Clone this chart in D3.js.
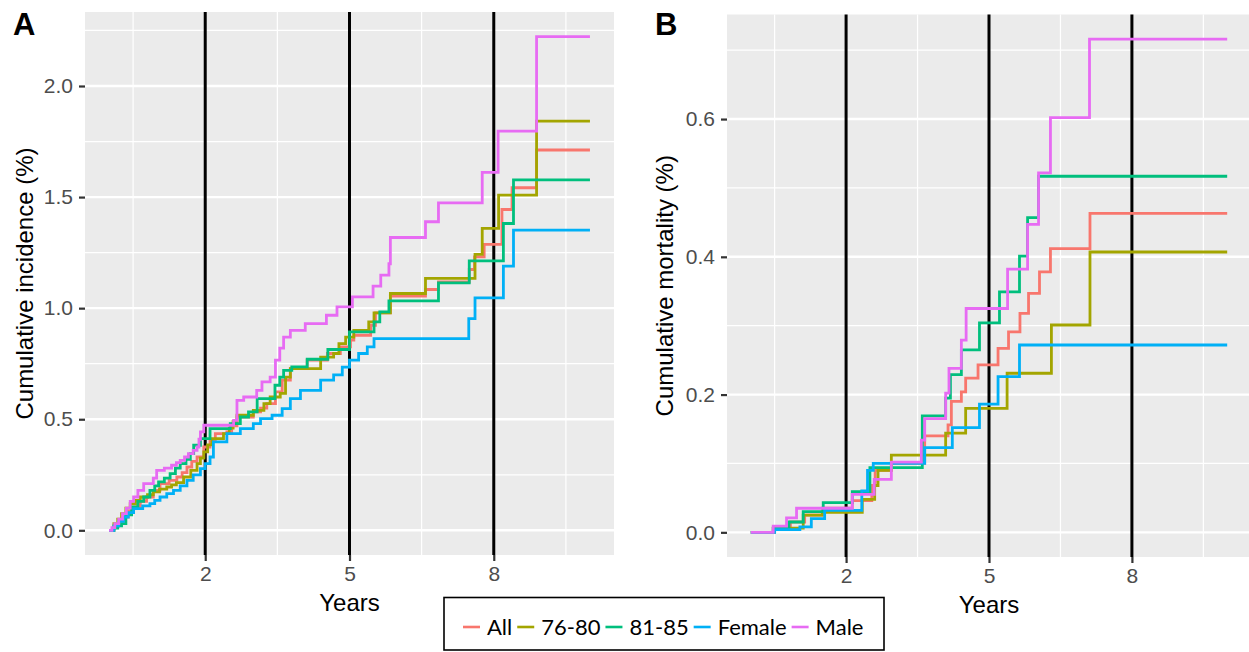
<!DOCTYPE html>
<html>
<head>
<meta charset="utf-8">
<script src="https://cdn.jsdelivr.net/npm/d3@7"></script>
<style>
  body { margin: 0; background: #fff; }
  svg { display: block; font-family: "Liberation Sans", Arial, sans-serif; }
</style>
</head>
<body>
<svg id="canvas" width="1249" height="652"></svg>
<script>
let seriesNames = ['All', '76-80', '81-85', 'Female', 'Male']
let seriesColors = ['#F8766D', '#A3A500', '#00BF7D', '#00B0F6', '#E76BF3']

let xTicks = [2, 5, 8]
let xMinor = [0.5, 3.5, 6.5, 9.5]
let incTicks = [0, 0.5, 1, 1.5, 2]
let incMinor = [0.25, 0.75, 1.25, 1.75, 2.25]
let morTicks = [0, 0.2, 0.4, 0.6]
let morMinor = [0.1, 0.3, 0.5, 0.7]

// cumulative incidence (%), [years, value] step points
let incAll = [[0,0],[0.1,0.02],[0.2,0.04],[0.3,0.06],[0.4,0.085],[0.51,0.105],[0.65,0.13],[0.78,0.15],[0.92,0.18],[1.06,0.21],[1.25,0.225],[1.41,0.24],[1.52,0.26],[1.62,0.285],[1.72,0.31],[1.83,0.33],[1.97,0.375],[2.1,0.405],[2.21,0.435],[2.45,0.443],[2.55,0.47],[2.66,0.51],[3.0,0.533],[3.15,0.55],[3.28,0.57],[3.46,0.623],[3.6,0.676],[3.77,0.728],[4.12,0.766],[4.54,0.796],[4.81,0.826],[5.02,0.856],[5.09,0.878],[5.44,0.923],[5.54,0.979],[5.85,1.054],[6.58,1.084],[6.85,1.118],[7.49,1.174],[7.6,1.231],[7.8,1.287],[8.17,1.444],[8.38,1.542],[8.89,1.712],[10,1.712]]
let inc7680 = [[0,0],[0.1,0.03],[0.18,0.05],[0.26,0.075],[0.35,0.1],[0.44,0.12],[0.55,0.135],[0.65,0.15],[0.8,0.16],[0.92,0.173],[1.05,0.185],[1.2,0.195],[1.3,0.205],[1.4,0.215],[1.55,0.24],[1.7,0.27],[1.83,0.3],[1.9,0.325],[1.97,0.353],[2.05,0.385],[2.14,0.413],[2.38,0.435],[2.5,0.46],[2.58,0.49],[2.66,0.518],[3.0,0.54],[3.22,0.57],[3.35,0.6],[3.56,0.616],[3.67,0.69],[3.77,0.728],[4.4,0.78],[4.67,0.796],[4.78,0.84],[4.92,0.87],[5.09,0.9],[5.4,0.938],[5.51,0.979],[5.85,1.066],[6.58,1.134],[7.61,1.242],[7.76,1.359],[8.1,1.509],[8.89,1.842],[10,1.842]]
let inc8185 = [[0,0],[0.1,0.01],[0.18,0.02],[0.26,0.03],[0.35,0.07],[0.47,0.105],[0.6,0.13],[0.72,0.15],[0.85,0.18],[0.95,0.2],[1.03,0.218],[1.15,0.235],[1.27,0.255],[1.38,0.28],[1.48,0.3],[1.6,0.32],[1.69,0.345],[1.76,0.383],[1.9,0.413],[2.1,0.458],[2.52,0.48],[2.73,0.51],[2.9,0.533],[3.08,0.593],[3.45,0.653],[3.55,0.69],[3.63,0.72],[3.8,0.736],[4.12,0.77],[4.55,0.814],[5.0,0.893],[5.51,0.938],[5.63,0.983],[5.82,1.033],[6.85,1.114],[7.49,1.213],[8.2,1.381],[8.41,1.577],[10,1.577]]
let incFemale = [[0,0],[0.1,0.02],[0.2,0.04],[0.3,0.06],[0.4,0.08],[0.51,0.098],[0.7,0.11],[0.85,0.12],[0.95,0.135],[1.06,0.15],[1.2,0.165],[1.34,0.18],[1.48,0.2],[1.62,0.225],[1.75,0.25],[1.9,0.278],[2.0,0.3],[2.1,0.33],[2.17,0.398],[2.45,0.435],[2.73,0.458],[3.0,0.48],[3.15,0.503],[3.39,0.518],[3.6,0.548],[3.77,0.593],[3.98,0.63],[4.4,0.676],[4.67,0.7],[4.85,0.735],[5.0,0.766],[5.19,0.796],[5.37,0.826],[5.51,0.863],[7.48,0.953],[7.61,1.046],[8.2,1.189],[8.41,1.351],[10,1.351]]
let incMale = [[0,0],[0.06,0.012],[0.12,0.03],[0.2,0.05],[0.28,0.075],[0.36,0.1],[0.44,0.13],[0.51,0.15],[0.6,0.18],[0.72,0.21],[0.92,0.235],[0.99,0.27],[1.15,0.28],[1.3,0.293],[1.4,0.305],[1.48,0.315],[1.57,0.33],[1.65,0.345],[1.75,0.36],[1.83,0.375],[1.87,0.41],[1.9,0.443],[1.97,0.473],[2.59,0.495],[2.66,0.585],[2.8,0.6],[3.07,0.63],[3.18,0.668],[3.35,0.69],[3.46,0.766],[3.55,0.82],[3.63,0.87],[3.77,0.9],[4.08,0.93],[4.52,0.968],[4.74,1.006],[5.06,1.051],[5.49,1.099],[5.65,1.149],[5.82,1.2],[5.85,1.318],[6.58,1.389],[6.85,1.474],[7.76,1.611],[8.09,1.797],[8.89,2.222],[10,2.222]]

// cumulative mortality (%)
let morAll = [[0,0],[0.47,0.006],[0.83,0.015],[1.13,0.025],[1.5,0.035],[2.13,0.046],[2.54,0.068],[2.61,0.09],[2.95,0.1],[3.65,0.14],[4.14,0.156],[4.21,0.19],[4.42,0.204],[4.51,0.224],[4.77,0.243],[5.19,0.267],[5.41,0.291],[5.65,0.318],[5.83,0.347],[6.06,0.378],[6.29,0.412],[7.12,0.463],[10,0.463]]
let mor7680 = [[0,0],[0.5,0.006],[1.1,0.025],[1.5,0.029],[2.34,0.048],[2.6,0.068],[2.67,0.09],[2.95,0.112],[4.09,0.144],[4.51,0.18],[5.38,0.231],[6.31,0.301],[7.12,0.407],[10,0.407]]
let mor8185 = [[0,0],[0.47,0.006],[0.8,0.015],[1.1,0.03],[1.52,0.043],[2.13,0.059],[2.5,0.094],[3.6,0.169],[4.09,0.195],[4.19,0.229],[4.42,0.265],[4.8,0.304],[5.22,0.349],[5.64,0.401],[5.81,0.457],[6.04,0.517],[10,0.517]]
let morFemale = [[0,0],[0.5,0.004],[1.03,0.008],[1.27,0.02],[1.55,0.032],[2.33,0.06],[2.45,0.09],[2.57,0.1],[3.65,0.123],[4.23,0.152],[4.8,0.186],[5.19,0.226],[5.64,0.272],[10,0.272]]
let morMale = [[0,0],[0.47,0.009],[0.75,0.021],[0.96,0.035],[2.13,0.055],[2.59,0.077],[2.95,0.102],[3.58,0.134],[3.65,0.165],[4.09,0.202],[4.16,0.238],[4.42,0.279],[4.52,0.325],[5.39,0.382],[5.81,0.447],[6.04,0.522],[6.29,0.602],[7.11,0.716],[10,0.716]]

let canvas = d3.select('#canvas')
canvas.append('rect').attr('width', 1249).attr('height', 652).attr('fill', '#fff')

let panels = [
  { label: 'A', labelX: 13, left: 85, right: 614, top: 12, bottom: 555, titleX: 33,
    yTitle: 'Cumulative incidence (%)', ticks: incTicks, minor: incMinor,
    series: [incAll, inc7680, inc8185, incFemale, incMale] },
  { label: 'B', labelX: 655, left: 727, right: 1251, top: 14.5, bottom: 557, titleX: 673,
    yTitle: 'Cumulative mortality (%)', ticks: morTicks, minor: morMinor,
    series: [morAll, mor7680, mor8185, morFemale, morMale] }
]

let drawPanel = (p) => {
  let g = canvas.append('g')
  let yMax = d3.max(p.series, (s) => d3.max(s, (d) => d[1]))
  let x = d3.scaleLinear().domain([-0.5, 10.5]).range([p.left, p.right])
  let y = d3.scaleLinear().domain([-0.05 * yMax, 1.05 * yMax]).range([p.bottom, p.top])

  g.append('rect')
    .attr('x', p.left).attr('y', p.top)
    .attr('width', p.right - p.left).attr('height', p.bottom - p.top)
    .attr('fill', '#EBEBEB')

  // grid
  g.selectAll('.hminor').data(p.minor).enter().append('line')
    .attr('x1', p.left).attr('x2', p.right)
    .attr('y1', (d) => y(d)).attr('y2', (d) => y(d))
    .attr('stroke', '#fff').attr('stroke-width', 1.2)
  g.selectAll('.vminor').data(xMinor).enter().append('line')
    .attr('y1', p.top).attr('y2', p.bottom)
    .attr('x1', (d) => x(d)).attr('x2', (d) => x(d))
    .attr('stroke', '#fff').attr('stroke-width', 1.2)
  g.selectAll('.hmajor').data(p.ticks).enter().append('line')
    .attr('x1', p.left).attr('x2', p.right)
    .attr('y1', (d) => y(d)).attr('y2', (d) => y(d))
    .attr('stroke', '#fff').attr('stroke-width', 2.4)

  // reference lines
  g.selectAll('.vref').data(xTicks).enter().append('line')
    .attr('y1', p.top).attr('y2', p.bottom)
    .attr('x1', (d) => x(d)).attr('x2', (d) => x(d))
    .attr('stroke', '#000').attr('stroke-width', 3)

  let line = d3.line()
    .x((d) => x(d[0]))
    .y((d) => y(d[1]))
    .curve(d3.curveStepAfter)

  g.selectAll('.curve').data(p.series).enter().append('path')
    .attr('d', line)
    .attr('fill', 'none')
    .attr('stroke', (d, i) => seriesColors[i])
    .attr('stroke-width', 2.8)

  // axes
  let xAxis = g.append('g')
    .attr('transform', 'translate(0,' + p.bottom + ')')
    .call(d3.axisBottom(x).tickValues(xTicks).tickSize(6).tickPadding(5).tickFormat(d3.format('d')))
  let yAxis = g.append('g')
    .attr('transform', 'translate(' + p.left + ',0)')
    .call(d3.axisLeft(y).tickValues(p.ticks).tickSize(6).tickPadding(6).tickFormat(d3.format('.1f')))
  ;[xAxis, yAxis].forEach((a) => {
    a.select('.domain').remove()
    a.selectAll('line').attr('stroke', '#333').attr('stroke-width', 2.2)
    a.selectAll('text')
      .attr('fill', '#4D4D4D')
      .style('font-size', '21px')
      .style('font-family', '"Liberation Sans", Arial, sans-serif')
  })

  g.append('text')
    .attr('x', (p.left + p.right) / 2).attr('y', p.bottom + 56)
    .attr('text-anchor', 'middle')
    .style('font-size', '24px')
    .text('Years')

  g.append('text')
    .attr('transform', 'translate(' + p.titleX + ',' + ((p.top + p.bottom) / 2) + ') rotate(-90)')
    .attr('text-anchor', 'middle')
    .style('font-size', '24px')
    .text(p.yTitle)

  g.append('text')
    .attr('x', p.labelX).attr('y', 35)
    .style('font-size', '31px').style('font-weight', 'bold')
    .text(p.label)
}

panels.forEach(drawPanel)

// legend
let legend = canvas.append('g')
legend.append('rect')
  .attr('x', 444).attr('y', 597.5).attr('width', 440).attr('height', 52.5)
  .attr('fill', '#fff').attr('stroke', '#000').attr('stroke-width', 1.6)

let lx = 463
seriesNames.forEach((name, i) => {
  legend.append('line')
    .attr('x1', lx).attr('x2', lx + 17)
    .attr('y1', 627).attr('y2', 627)
    .attr('stroke', seriesColors[i]).attr('stroke-width', 2.6)
  let t = legend.append('text')
    .attr('x', lx + 24).attr('y', 635)
    .style('font-family', 'Lato, "Open Sans", sans-serif')
    .style('font-size', '22px')
    .text(name)
  lx = lx + 24 + t.node().getComputedTextLength() + 5
})
</script>
</body>
</html>
